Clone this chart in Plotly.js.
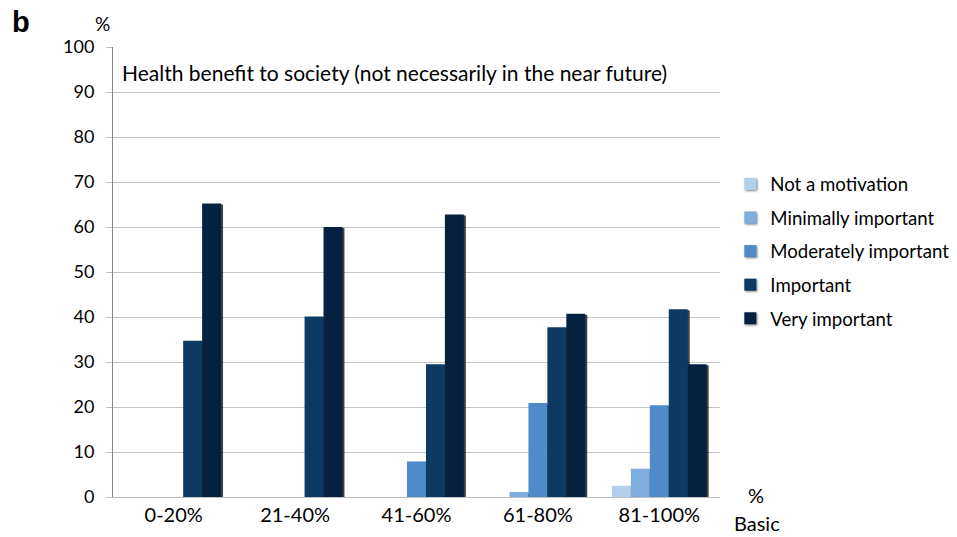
<!DOCTYPE html>
<html><head><meta charset="utf-8">
<script src="https://cdn.plot.ly/plotly-3.0.1.min.js"></script>
<style>body{margin:0;background:#fff}#c{width:957px;height:537px}
#c .barlayer .point path{filter:drop-shadow(2px 1px 0.6px rgba(0,0,0,0.75));}
#c .legend .legendpoints path{filter:drop-shadow(1px 1px 1px rgba(0,0,0,0.5));}
</style>
</head><body><div id="c"></div>
<script>
const categories = ["0-20%", "21-40%", "41-60%", "61-80%", "81-100%"];
const seriesNames = ["Not a motivation", "Minimally important", "Moderately important", "Important", "Very important"];
const notMotivation = [0, 0, 0, 0, 2.5];
const minimallyImportant = [0, 0, 0, 1.1, 6.3];
const moderatelyImportant = [0, 0, 7.9, 20.9, 20.4];
const important = [34.7, 40.1, 29.5, 37.7, 41.7];
const veryImportant = [65.2, 60.0, 62.8, 40.7, 29.5];
const yTicks = [0, 10, 20, 30, 40, 50, 60, 70, 80, 90, 100];
const colors = ["#b3cfec", "#7fadde", "#4f8bc9", "#0c3a62", "#05213f"];

const FONT = "Lato, Liberation Sans, Arial, sans-serif";
const values = [notMotivation, minimallyImportant, moderatelyImportant, important, veryImportant];
const traces = values.map((v, i) => ({
  type: "bar", x: categories, y: v, name: seriesNames[i],
  legendgroup: "g" + i,
  marker: {color: colors[i], line: {width: 0}},
  hoverinfo: "x+y+name"
}));

const layout = {
  width: 957, height: 537,
  margin: {l: 113, r: 237, t: 46.5, b: 39.5, autoexpand: false},
  paper_bgcolor: "#fff", plot_bgcolor: "#fff",
  barmode: "group", bargap: 0.22, bargroupgap: 0,
  font: {family: FONT, color: "#000", size: 18},
  showlegend: true,
  legend: {x: 1.017, y: 0.737, xanchor: "left", yanchor: "top",
    font: {family: FONT, size: 18.6, color: "#000"},
    traceorder: "grouped", tracegroupgap: 6.4, itemwidth: 30, bgcolor: "rgba(0,0,0,0)"},
  xaxis: {type: "category", showgrid: false, showline: true, linecolor: "#bfbfbf", linewidth: 1,
    ticks: "", tickfont: {family: FONT, size: 20}, zeroline: false},
  yaxis: {range: [0, 100], tickvals: yTicks, ticktext: yTicks.map(String),
    showgrid: true, gridcolor: "#c4c4c4", gridwidth: 1,
    showline: true, linecolor: "#868686", linewidth: 1,
    ticks: "outside", ticklen: 6, tickcolor: "#bfbfbf",
    tickfont: {family: FONT, size: 18}, zeroline: false, ticklabelstandoff: 8},
  annotations: [
    {text: "<b>b</b>", xref: "paper", yref: "paper", x: -0.17, y: 1.055, xanchor: "left", yanchor: "middle", showarrow: false, font: {size: 29, family: "Liberation Sans, Arial, sans-serif"}},
    {text: "%", xref: "paper", yref: "paper", x: -0.002, y: 1.052, xanchor: "right", yanchor: "middle", showarrow: false, font: {size: 19, family: FONT}},
    {text: "Health benefit to society (not necessarily in the near future)", xref: "paper", yref: "paper", x: 0.012, y: 0.943, xanchor: "left", yanchor: "middle", showarrow: false, font: {size: 21, family: FONT}},
    {text: "%", xref: "paper", yref: "paper", x: 1.06, y: 0.005, xanchor: "center", yanchor: "middle", showarrow: false, font: {size: 20, family: FONT}},
    {text: "Basic", xref: "paper", yref: "paper", x: 1.061, y: -0.057, xanchor: "center", yanchor: "middle", showarrow: false, font: {size: 20, family: FONT}}
  ]
};
Plotly.newPlot("c", traces, layout, {displayModeBar: false, staticPlot: true});
</script></body></html>
